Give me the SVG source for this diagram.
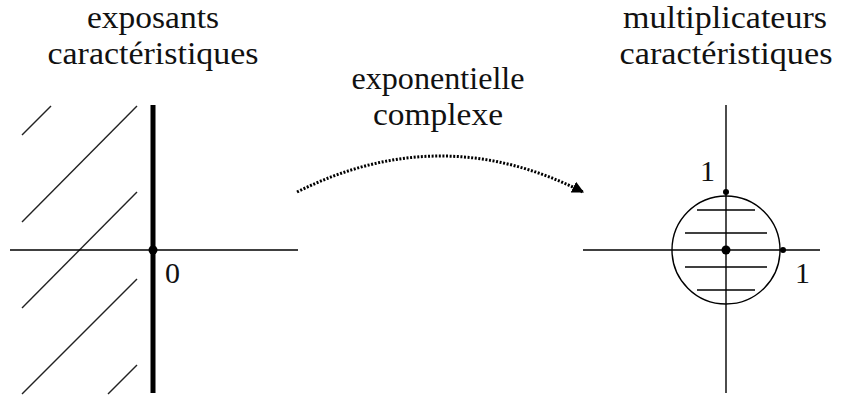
<svg xmlns="http://www.w3.org/2000/svg" width="860" height="396" viewBox="0 0 860 396">
<style>
.lbl{font-family:'Liberation Serif','DejaVu Serif',serif;font-size:31px;fill:#111;text-anchor:middle}
.num{font-family:'Liberation Serif','DejaVu Serif',serif;font-size:30px;fill:#111}
.ax{stroke:#000;stroke-width:1.4;fill:none}
.hatch{stroke:#222;stroke-width:1.4;fill:none}
.dot{fill:#000}
</style>
<defs>
<marker id="arr" viewBox="0 0 10 10" refX="9" refY="5" markerWidth="4" markerHeight="4" orient="auto" markerUnits="strokeWidth">
<path d="M0,0 L10,5 L0,10 z" fill="#000"/>
</marker>
</defs>
<g id="left-plane">
<text class="lbl" x="153" y="28" textLength="132" lengthAdjust="spacingAndGlyphs">exposants</text>
<text class="lbl" x="153" y="64" textLength="211" lengthAdjust="spacingAndGlyphs">caractéristiques</text>
<line class="hatch" x1="22" y1="135" x2="51" y2="106"/>
<line class="hatch" x1="22" y1="222" x2="137" y2="106"/>
<line class="hatch" x1="22" y1="308" x2="137" y2="192"/>
<line class="hatch" x1="22" y1="394" x2="137" y2="279"/>
<line class="hatch" x1="108" y1="394" x2="137" y2="365"/>
<line class="ax" x1="10" y1="250" x2="298" y2="250"/>
<line x1="153" y1="105" x2="153" y2="393" stroke="#000" stroke-width="5"/>
<circle class="dot" cx="153" cy="250" r="4.5"/>
<text class="num" x="165" y="283">0</text>
</g>
<g id="right-plane">
<text class="lbl" x="725" y="28" textLength="204" lengthAdjust="spacingAndGlyphs">multiplicateurs</text>
<text class="lbl" x="726" y="64" textLength="213" lengthAdjust="spacingAndGlyphs">caractéristiques</text>
<line class="ax" x1="697" y1="210" x2="755" y2="210"/>
<line class="ax" x1="685" y1="233" x2="767" y2="233"/>
<line class="ax" x1="685" y1="267" x2="767" y2="267"/>
<line class="ax" x1="697" y1="290" x2="755" y2="290"/>
<line class="ax" x1="583" y1="250" x2="820" y2="250"/>
<line class="ax" x1="726" y1="105" x2="726" y2="393"/>
<circle class="ax" cx="726" cy="250" r="54" stroke-width="1.6"/>
<circle class="dot" cx="726" cy="250" r="4.5"/>
<circle class="dot" cx="726" cy="192" r="3"/>
<circle class="dot" cx="783" cy="250" r="3"/>
<text class="num" x="700" y="181">1</text>
<text class="num" x="795" y="283">1</text>
</g>
<g id="arrow-label">
<text class="lbl" x="438" y="89" textLength="173" lengthAdjust="spacingAndGlyphs">exponentielle</text>
<text class="lbl" x="438" y="125" textLength="130" lengthAdjust="spacingAndGlyphs">complexe</text>
</g>
<g id="connectors">
<path d="M297,192 Q441,120 583,192" fill="none" stroke="#000" stroke-width="3" stroke-dasharray="2 1.6" marker-end="url(#arr)"/>
</g>
</svg>
